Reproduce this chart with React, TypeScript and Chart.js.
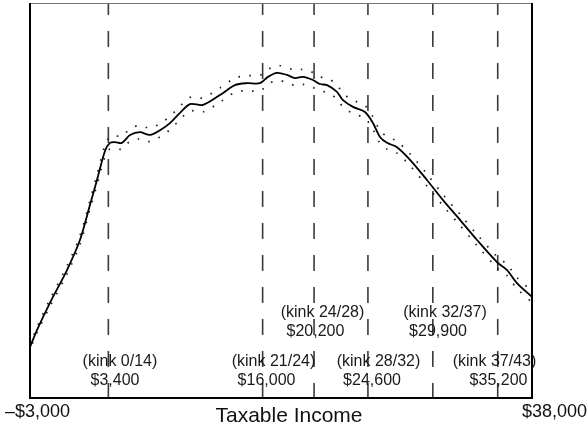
import React, { useEffect, useRef } from "react";
import { Chart, registerables } from "chart.js";

Chart.register(...registerables);

// ---- data ----
const incomes = [
  -3000, -2430, -1370, 20, 1080, 1900, 2470, 3130, 3530, 3940, 4510, 5170, 5980, 6800, 7620, 8430,
  9250, 10070, 11130, 12520, 13740, 14720, 15780, 16440, 17170, 17990, 18640, 19300, 20110, 20680,
  21260, 22070, 22560, 23380, 24360, 25010, 25580, 26160, 26970, 28040, 29420, 30730, 32120, 33510,
  35140, 35960, 36770, 38000,
];
const fitted = [
  12.9, 17.2, 24.1, 32.4, 40.0, 48.9, 55.2, 62.6, 64.6, 64.8, 64.6, 66.6, 67.3, 66.6, 67.8, 69.6,
  72.2, 74.4, 74.2, 76.7, 79.2, 79.7, 79.7, 81.3, 82.3, 81.8, 81.0, 81.3, 80.5, 79.5,
  79.2, 77.5, 75.4, 73.7, 72.4, 69.6, 66.1, 64.6, 63.5, 60.3, 55.2, 50.1, 45.1, 40.0,
  34.4, 32.4, 29.1, 25.6,
];
const upperCI = [
  13.4, 17.9, 25.0, 33.4, 41.1, 50.0, 56.5, 64.0, 66.1, 66.4, 66.2, 68.2, 69.0, 68.3, 69.5, 71.3,
  73.9, 76.1, 76.0, 78.5, 81.0, 81.6, 81.7, 83.2, 84.2, 83.7, 82.9, 83.2, 82.4, 81.3,
  81.0, 79.3, 77.1, 75.4, 74.0, 71.2, 67.7, 66.2, 65.0, 61.8, 56.7, 51.5, 46.5, 41.4,
  35.8, 33.8, 30.5, 27.0,
];
const lowerCI = [
  12.4, 16.5, 23.2, 31.4, 38.9, 47.8, 53.9, 61.2, 63.1, 63.2, 63.0, 65.0, 65.6, 64.9, 66.1, 67.9,
  70.5, 72.7, 72.4, 74.9, 77.4, 77.8, 77.7, 79.4, 80.4, 79.9, 79.1, 79.4, 78.6, 77.7,
  77.4, 75.7, 73.7, 72.0, 70.8, 68.0, 64.5, 63.0, 62.0, 58.8, 53.7, 48.7, 43.7, 38.6,
  33.0, 31.0, 27.7, 24.2,
];
const kinks = [3400, 16000, 20200, 24600, 29900, 35200];
const kinkNames = ["(kink 0/14)", "(kink 21/24)", "(kink 24/28)", "(kink 28/32)", "(kink 32/37)", "(kink 37/43)"];
const kinkAmounts = ["$3,400", "$16,000", "$20,200", "$24,600", "$29,900", "$35,200"];
const xMin = -3000;
const xMax = 38000;
const xTickLabels = ["\u2013$3,000", "$38,000"];
const xTitle = "Taxable Income";

// ---- styles / layout ----
const FONT = '"Liberation Sans", Arial, Helvetica, sans-serif';
const labelRowUpper = [false, false, true, false, true, false];
const nameOffsets = [11.6, 10.9, 8.4, 10.6, 12.2, -3.2];
const amountOffsets = [6.6, 3.9, 1.4, 4.1, 5.2, 0.8];

const decorPlugin = {
  id: "decor",
  beforeDatasetsDraw(chart: any) {
    const { ctx, chartArea, scales } = chart;
    const x = scales.x;
    ctx.save();
    ctx.strokeStyle = "#3a3a3a";
    ctx.lineWidth = 1.6;
    ctx.setLineDash([16, 16]);
    ctx.lineDashOffset = 4;
    kinks.forEach((k) => {
      const px = x.getPixelForValue(k);
      ctx.beginPath();
      ctx.moveTo(px, chartArea.top);
      ctx.lineTo(px, chartArea.bottom);
      ctx.stroke();
    });
    ctx.restore();
  },
  afterDatasetsDraw(chart: any) {
    const { ctx, chartArea, scales } = chart;
    const { top, bottom, left, right } = chartArea;
    const x = scales.x;
    ctx.save();
    // frame
    ctx.setLineDash([]);
    ctx.strokeStyle = "#777";
    ctx.lineWidth = 1;
    ctx.beginPath();
    ctx.moveTo(left, top + 0.5);
    ctx.lineTo(right, top + 0.5);
    ctx.stroke();
    ctx.strokeStyle = "#000";
    ctx.lineWidth = 2;
    ctx.beginPath();
    ctx.moveTo(left, top);
    ctx.lineTo(left, bottom);
    ctx.lineTo(right, bottom);
    ctx.lineTo(right, top);
    ctx.stroke();

    // kink labels
    ctx.fillStyle = "#1a1a1a";
    ctx.font = `16px ${FONT}`;
    ctx.textAlign = "center";
    ctx.textBaseline = "alphabetic";
    kinks.forEach((k, i) => {
      const px = x.getPixelForValue(k);
      const b1 = labelRowUpper[i] ? bottom - 81 : bottom - 32;
      ctx.fillText(kinkNames[i], px + nameOffsets[i], b1);
      ctx.fillText(kinkAmounts[i], px + amountOffsets[i], b1 + 19);
    });

    // x tick labels and title
    ctx.fillStyle = "#111";
    ctx.font = `18px ${FONT}`;
    ctx.textAlign = "left";
    ctx.fillText(xTickLabels[0], x.getPixelForValue(xMin) - 25, bottom + 19);
    ctx.textAlign = "right";
    ctx.fillText(xTickLabels[1], x.getPixelForValue(xMax) + 55, bottom + 19);
    ctx.font = `21px ${FONT}`;
    ctx.textAlign = "center";
    ctx.fillText(xTitle, (left + right) / 2 + 8, bottom + 24);
    ctx.restore();
  },
};

export default function App() {
  const canvasRef = useRef<HTMLCanvasElement | null>(null);

  useEffect(() => {
    const canvas = canvasRef.current;
    if (!canvas) return;
    const toPts = (ys: number[]) => incomes.map((v, i) => ({ x: v, y: ys[i] }));
    const chart = new Chart(canvas, {
      type: "line",
      data: {
        datasets: [
          {
            label: "Fitted",
            data: toPts(fitted),
            borderColor: "#000",
            borderWidth: 1.8,
            pointRadius: 0,
            tension: 0.3,
            fill: false,
          },
          {
            label: "Upper",
            data: toPts(upperCI),
            borderColor: "#222",
            borderWidth: 1.7,
            borderDash: [1.6, 9.4],
            pointRadius: 0,
            tension: 0.3,
            fill: false,
          },
          {
            label: "Lower",
            data: toPts(lowerCI),
            borderColor: "#222",
            borderWidth: 1.7,
            borderDash: [1.6, 9.4],
            borderDashOffset: 5,
            pointRadius: 0,
            tension: 0.3,
            fill: false,
          },
        ],
      },
      options: {
        animation: false,
        responsive: false,
        maintainAspectRatio: false,
        devicePixelRatio: 1,
        layout: { padding: { left: 30, right: 56, top: 3, bottom: 34 } },
        plugins: { legend: { display: false }, tooltip: { enabled: false }, title: { display: false } },
        scales: {
          x: { type: "linear", min: xMin, max: xMax, display: false },
          y: { type: "linear", min: 0, max: 100, display: false },
        },
      },
      plugins: [decorPlugin],
    });
    return () => chart.destroy();
  }, []);

  return (
    <div style={{ position: "fixed", left: 0, top: 0, width: 588, height: 432, background: "#fff" }}>
      <canvas ref={canvasRef} width={588} height={432} style={{ width: 588, height: 432, display: "block" }} />
    </div>
  );
}
